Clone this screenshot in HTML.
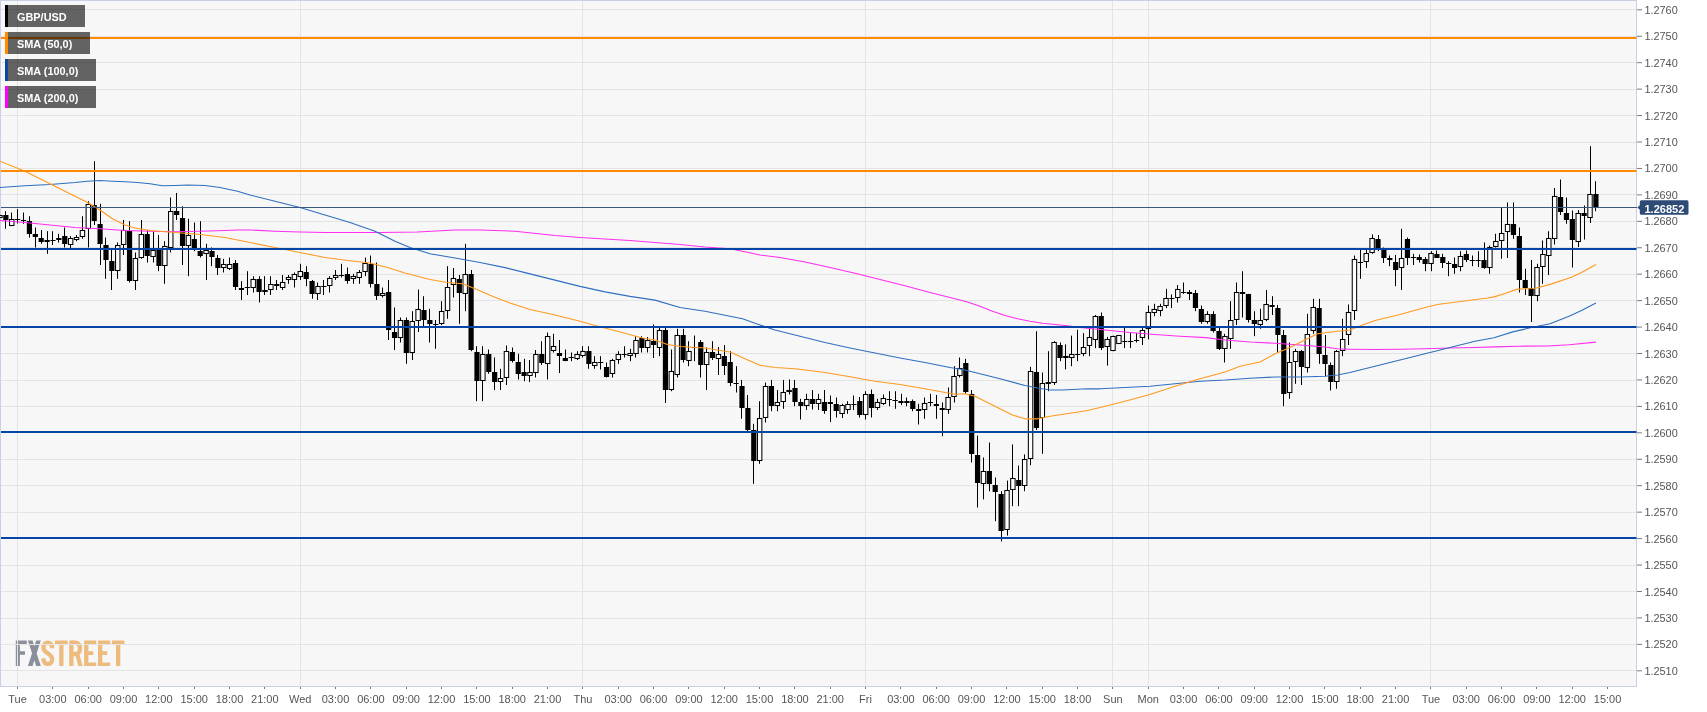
<!DOCTYPE html><html><head><meta charset="utf-8"><title>GBP/USD</title>
<style>html,body{margin:0;padding:0;background:#fff}body{width:1707px;height:712px;overflow:hidden}svg{display:block}text{font-family:"Liberation Sans",sans-serif}text{filter:grayscale(1)}</style></head><body>
<svg width="1707" height="712" viewBox="0 0 1707 712">
<rect x="0" y="0" width="1707" height="712" fill="#fff"/>
<rect x="0" y="0" width="1637" height="687" fill="#c9d0e6"/>
<rect x="1" y="1" width="1635" height="685" fill="#f7f7f7"/>
<path fill="#8b8f9b" d="M15.8 640.6 H26.8 V644.2 H19.9 V651.2 H25 V654.8 H19.9 V666.1 H15.8Z"/><path fill="#8b8f9b" d="M27.9 640.6 H32.5 L40.8 666.1 H36.2Z M36.2 640.6 H40.8 L32.5 666.1 H27.9Z"/><path fill="none" stroke="#eebb7e" stroke-width="4.3" d="M52.05 648.3 V646.6 A4.25 3.85 0 0 0 43.55 646.6 V648.2 C43.55 653.2 52.05 653.4 52.05 658.6 V660.1 A4.25 3.85 0 0 1 43.55 660.1 V658.2"/><path fill="#eebb7e" d="M54.9 640.6 H67.7 V644.2 H63.5 V666.1 H59.2 V644.2 H54.9Z"/><path fill="#eebb7e" d="M69.2 640.6 H73.5 V666.1 H69.2Z M75.2 654.3 H79.5 L82.6 666.1 H78.2Z"/><path fill="none" stroke="#eebb7e" stroke-width="4.3" d="M71.35 642.75 H75.6 A4.3 4.3 0 0 1 79.9 647.05 V649.7 A4.3 4.3 0 0 1 75.6 654 H71.35"/><path fill="#eebb7e" d="M84.1 640.6 H96.2 V644.2 H88.4 V651.3 H93.3 V654.9 H88.4 V662.5 H96.2 V666.1 H84.1Z"/><path fill="#eebb7e" d="M98.0 640.6 H110.1 V644.2 H102.3 V651.3 H107.2 V654.9 H102.3 V662.5 H110.1 V666.1 H98.0Z"/><path fill="#eebb7e" d="M111.9 640.6 H124.4 V644.2 H120.3 V666.1 H116 V644.2 H111.9Z"/>
<path d="M1 9.5H1636M1 36.5H1636M1 62.5H1636M1 89.5H1636M1 115.5H1636M1 142.5H1636M1 168.5H1636M1 194.5H1636M1 221.5H1636M1 247.5H1636M1 274.5H1636M1 300.5H1636M1 327.5H1636M1 353.5H1636M1 380.5H1636M1 406.5H1636M1 432.5H1636M1 459.5H1636M1 485.5H1636M1 512.5H1636M1 538.5H1636M1 565.5H1636M1 591.5H1636M1 618.5H1636M1 644.5H1636M1 670.5H1636M17.5 1V686M300.5 1V686M582.5 1V686M865.5 1V686M1112.5 1V686M1148.5 1V686M1430.5 1V686" stroke="#e4e4e4" stroke-width="1" fill="none" shape-rendering="crispEdges"/>
<path d="M-0.5 210.2V215.0M-0.5 218.0V219.0M5.5 211.2V228.8M11.5 212.5V219.0M11.5 226.0V226.2M17.5 209.2V223.5M23.5 212.5V223.8M29.5 216.2V237.5M35.5 227.5V247.5M41.5 230.0V243.8M47.5 231.2V253.8M52.5 231.2V245.0M58.5 233.8V242.5M64.5 227.5V247.5M70.5 236.2V238.0M70.5 245.0V250.0M76.5 235.0V237.0M76.5 240.0V241.2M82.5 216.2V230.0M82.5 237.0V238.8M88.5 201.2V204.0M88.5 229.0V247.5M94.5 161.2V225.0M100.5 203.8V265.0M105.5 237.5V278.8M111.5 248.8V290.0M117.5 242.5V245.0M117.5 271.0V278.8M123.5 220.0V230.0M123.5 245.0V255.0M129.5 221.2V282.5M135.5 252.5V258.0M135.5 281.0V290.0M141.5 220.0V234.0M141.5 258.0V258.8M147.5 230.0V262.5M153.5 231.2V250.0M153.5 257.0V262.5M158.5 235.0V271.2M164.5 241.2V246.0M164.5 266.0V283.8M170.5 197.5V211.0M170.5 248.0V252.5M176.5 193.0V220.0M182.5 206.2V265.0M188.5 218.8V235.0M188.5 246.0V276.2M194.5 222.5V251.2M200.5 221.2V257.5M206.5 243.8V250.0M206.5 254.0V280.0M211.5 247.5V266.2M217.5 255.0V275.0M223.5 258.8V264.0M223.5 268.0V272.5M229.5 257.5V264.0M229.5 269.0V270.0M235.5 260.0V290.0M241.5 281.2V300.0M247.5 271.2V295.0M253.5 276.2V279.0M253.5 288.0V292.5M259.5 276.2V302.5M264.5 276.2V290.0M264.5 292.0V295.0M270.5 276.2V284.0M270.5 290.0V295.0M276.5 280.0V290.0M282.5 275.0V282.0M282.5 288.0V290.0M288.5 275.0V277.0M288.5 280.0V283.8M294.5 272.5V274.0M294.5 280.0V287.5M300.5 263.8V271.0M300.5 277.0V280.0M306.5 266.2V286.2M312.5 280.0V298.8M317.5 282.5V286.0M317.5 294.0V300.0M323.5 280.0V295.0M329.5 276.2V278.0M329.5 286.0V292.5M335.5 270.0V275.0M335.5 278.0V280.0M341.5 263.8V277.5M347.5 267.5V283.8M353.5 273.8V276.0M353.5 279.0V283.8M359.5 270.0V272.0M359.5 278.0V283.8M365.5 257.5V263.0M365.5 272.0V276.2M370.5 255.5V287.5M376.5 262.5V300.0M382.5 287.5V293.0M382.5 296.0V297.5M388.5 280.0V340.0M394.5 307.5V350.0M400.5 317.5V320.0M400.5 338.0V342.5M406.5 317.5V363.8M412.5 311.2V321.0M412.5 353.0V360.0M418.5 289.5V309.0M418.5 321.0V332.0M423.5 296.2V326.2M429.5 308.8V342.5M435.5 320.0V348.8M441.5 301.2V311.0M441.5 324.0V325.0M447.5 266.2V287.0M447.5 311.0V318.8M453.5 268.0V278.0M453.5 285.0V297.5M459.5 275.0V323.8M465.5 243.8V274.0M465.5 294.0V311.2M471.5 270.0V351.2M476.5 346.2V401.2M482.5 346.2V354.0M482.5 381.0V401.2M488.5 349.5V373.8M494.5 357.5V390.0M500.5 368.8V378.0M500.5 382.0V390.0M506.5 345.5V351.0M506.5 378.0V385.0M512.5 347.5V362.5M518.5 353.8V379.5M524.5 358.8V381.2M529.5 360.0V372.0M529.5 376.0V382.0M535.5 350.0V354.0M535.5 373.0V377.5M541.5 341.2V365.0M547.5 332.5V336.0M547.5 364.0V379.5M553.5 333.8V346.0M553.5 351.0V352.5M559.5 340.0V373.0M565.5 349.5V361.2M571.5 352.5V361.2M577.5 351.2V354.0M577.5 359.0V360.0M582.5 346.2V351.0M582.5 356.0V357.5M588.5 346.2V368.8M594.5 356.2V362.0M594.5 366.0V368.8M600.5 356.2V369.5M606.5 362.5V377.5M612.5 358.8V360.0M612.5 374.0V377.5M618.5 351.2V354.0M618.5 360.0V363.8M624.5 346.2V357.5M630.5 348.8V353.0M630.5 356.0V361.2M635.5 336.2V340.0M635.5 354.0V357.5M641.5 336.2V352.5M647.5 337.0V340.0M647.5 348.0V352.5M653.5 324.5V358.0M659.5 327.5V330.0M659.5 348.0V356.2M665.5 327.5V403.0M671.5 349.5V371.0M671.5 390.0V391.2M677.5 328.8V335.0M677.5 375.0V377.5M683.5 328.8V362.5M688.5 341.2V351.0M688.5 361.0V366.2M694.5 335.5V361.2M700.5 340.0V377.5M706.5 347.5V352.0M706.5 365.0V390.0M712.5 341.2V360.0M718.5 347.0V354.0M718.5 359.0V375.0M724.5 345.0V375.0M730.5 351.2V386.2M736.5 366.2V392.5M741.5 380.0V418.8M747.5 395.0V431.2M753.5 423.8V483.8M759.5 401.2V418.0M759.5 461.0V463.8M765.5 382.5V386.0M765.5 418.0V422.5M771.5 380.0V411.2M777.5 390.0V402.0M777.5 406.0V411.2M783.5 380.0V392.0M783.5 402.0V408.8M789.5 379.5V390.0M789.5 392.0V394.5M794.5 380.0V406.2M800.5 398.8V419.5M806.5 393.8V399.0M806.5 406.0V410.0M812.5 390.0V409.5M818.5 393.8V399.0M818.5 404.0V410.0M824.5 390.0V413.8M830.5 395.5V422.0M836.5 397.5V417.5M842.5 403.8V405.0M842.5 414.0V418.0M847.5 401.2V404.0M847.5 410.0V413.8M853.5 395.5V410.0M859.5 397.0V417.5M865.5 391.2V394.0M865.5 415.0V419.5M871.5 389.5V417.5M877.5 398.8V402.0M877.5 408.0V410.0M883.5 394.5V398.0M883.5 404.0V405.0M889.5 391.2V406.2M895.5 391.2V408.8M901.5 393.8V405.0M906.5 397.5V406.2M912.5 399.5V411.2M918.5 403.8V424.5M924.5 397.5V403.0M924.5 410.0V418.8M930.5 393.8V406.2M936.5 395.0V418.8M942.5 402.5V436.2M948.5 387.5V397.0M948.5 410.0V413.8M954.5 366.2V376.0M954.5 397.0V402.5M959.5 357.5V368.0M959.5 376.0V377.5M965.5 358.8V393.8M971.5 390.0V462.5M977.5 435.6V507.5M983.5 457.5V471.0M983.5 484.0V499.4M989.5 442.5V491.2M995.5 477.5V521.2M1001.5 491.2V541.5M1007.5 480.6V490.0M1007.5 530.0V535.6M1012.5 444.4V478.0M1012.5 490.0V506.2M1018.5 465.6V506.2M1024.5 454.4V459.0M1024.5 486.0V491.2M1030.5 366.9V371.0M1030.5 459.0V465.2M1036.5 331.2V430.0M1042.5 372.5V383.0M1042.5 418.0V453.8M1048.5 351.2V391.2M1054.5 341.2V342.0M1054.5 383.0V385.0M1060.5 342.5V361.2M1065.5 344.4V356.0M1065.5 358.0V369.4M1071.5 335.6V354.0M1071.5 358.0V366.2M1077.5 329.8V361.2M1083.5 333.1V347.0M1083.5 354.0V356.2M1089.5 328.8V337.0M1089.5 346.0V356.2M1095.5 315.0V316.0M1095.5 340.0V348.1M1101.5 312.5V350.0M1107.5 336.9V339.0M1107.5 347.0V365.6M1113.5 335.6V336.0M1113.5 351.0V351.2M1118.5 335.0V335.0M1118.5 344.0V344.0M1124.5 327.5V348.1M1130.5 333.1V348.1M1136.5 333.1V342.5M1142.5 328.1V330.0M1142.5 338.0V345.0M1148.5 305.6V312.0M1148.5 329.0V339.4M1154.5 303.8V309.0M1154.5 313.0V316.2M1160.5 303.8V306.0M1160.5 311.0V316.2M1166.5 288.8V298.0M1166.5 306.0V308.1M1171.5 294.4V308.1M1177.5 285.0V289.0M1177.5 298.0V302.5M1183.5 282.5V293.8M1189.5 290.0V300.0M1195.5 290.0V311.2M1201.5 305.5V323.8M1207.5 311.2V314.0M1207.5 322.0V323.8M1213.5 311.2V332.5M1219.5 327.5V350.0M1224.5 333.8V336.0M1224.5 349.0V362.5M1230.5 301.2V320.0M1230.5 339.0V348.8M1236.5 282.5V292.0M1236.5 320.0V325.0M1242.5 271.2V317.5M1248.5 293.8V322.5M1254.5 311.2V336.2M1260.5 308.8V320.0M1260.5 325.0V328.8M1266.5 290.0V304.0M1266.5 320.0V321.2M1272.5 296.2V315.0M1277.5 305.0V352.5M1283.5 330.0V406.2M1289.5 342.5V362.0M1289.5 393.0V398.8M1295.5 348.8V351.0M1295.5 362.0V383.8M1301.5 350.0V385.0M1307.5 313.8V334.0M1307.5 368.0V372.5M1313.5 298.8V307.0M1313.5 331.0V333.8M1319.5 298.8V363.8M1325.5 335.0V376.2M1330.5 362.5V390.5M1336.5 350.0V351.0M1336.5 382.0V388.8M1342.5 318.8V339.0M1342.5 351.0V356.2M1348.5 304.5V312.0M1348.5 335.0V345.0M1354.5 255.5V259.0M1354.5 311.0V320.0M1360.5 248.8V278.8M1366.5 250.0V253.0M1366.5 262.0V268.0M1372.5 234.5V238.0M1372.5 253.0V253.8M1378.5 235.0V251.2M1383.5 247.5V263.0M1389.5 255.5V266.2M1395.5 255.0V286.2M1401.5 228.8V258.0M1401.5 268.0V290.0M1407.5 237.5V265.0M1413.5 253.8V265.0M1419.5 254.5V262.5M1425.5 257.0V271.2M1431.5 251.2V253.0M1431.5 264.0V271.2M1436.5 250.5V258.0M1442.5 253.8V268.0M1448.5 261.2V276.2M1454.5 257.5V273.8M1460.5 251.2V256.0M1460.5 267.0V271.2M1466.5 250.5V262.0M1472.5 255.5V266.2M1478.5 251.2V267.0M1484.5 242.5V268.8M1489.5 245.5V247.0M1489.5 268.0V273.8M1495.5 233.8V241.0M1495.5 247.0V247.5M1501.5 207.5V233.0M1501.5 241.0V258.8M1507.5 202.5V224.0M1507.5 232.0V258.0M1513.5 202.5V238.8M1519.5 227.5V292.5M1525.5 268.8V295.0M1531.5 260.0V322.0M1537.5 263.8V267.0M1537.5 296.0V301.2M1542.5 240.5V254.0M1542.5 267.0V283.8M1548.5 231.2V238.0M1548.5 256.0V275.0M1554.5 188.0V196.0M1554.5 239.0V244.5M1560.5 179.5V215.0M1566.5 197.5V223.8M1572.5 210.5V267.5M1578.5 210.0V213.0M1578.5 242.0V247.0M1584.5 205.5V239.5M1590.5 146.2V194.0M1590.5 218.0V223.0M1595.5 181.2V211.2" stroke="#000" stroke-width="1" fill="none"/>
<g fill="#000"><rect x="3.27" y="215.0" width="5.2" height="5.0"/><rect x="15.05" y="219.0" width="5.2" height="1.0"/><rect x="20.94" y="220.0" width="5.2" height="1.0"/><rect x="26.83" y="221.0" width="5.2" height="13.0"/><rect x="32.72" y="234.0" width="5.2" height="3.0"/><rect x="38.61" y="238.0" width="5.2" height="4.0"/><rect x="44.49" y="240.0" width="5.2" height="2.0"/><rect x="50.38" y="240.0" width="5.2" height="1.0"/><rect x="56.27" y="238.0" width="5.2" height="2.0"/><rect x="62.16" y="236.0" width="5.2" height="8.0"/><rect x="91.61" y="205.0" width="5.2" height="16.0"/><rect x="97.50" y="224.0" width="5.2" height="20.0"/><rect x="103.39" y="245.0" width="5.2" height="15.0"/><rect x="109.27" y="261.0" width="5.2" height="10.0"/><rect x="126.94" y="231.0" width="5.2" height="50.0"/><rect x="144.61" y="234.0" width="5.2" height="22.0"/><rect x="156.39" y="250.0" width="5.2" height="16.0"/><rect x="174.05" y="211.0" width="5.2" height="4.0"/><rect x="179.94" y="218.0" width="5.2" height="28.0"/><rect x="191.72" y="239.0" width="5.2" height="11.0"/><rect x="197.61" y="251.0" width="5.2" height="5.0"/><rect x="209.39" y="251.0" width="5.2" height="6.0"/><rect x="215.28" y="258.0" width="5.2" height="10.0"/><rect x="232.94" y="263.0" width="5.2" height="24.0"/><rect x="238.83" y="288.0" width="5.2" height="2.0"/><rect x="244.72" y="287.0" width="5.2" height="1.0"/><rect x="256.50" y="279.0" width="5.2" height="13.0"/><rect x="274.17" y="284.0" width="5.2" height="2.0"/><rect x="303.61" y="272.0" width="5.2" height="7.0"/><rect x="309.50" y="281.0" width="5.2" height="13.0"/><rect x="321.28" y="286.0" width="5.2" height="1.0"/><rect x="338.94" y="275.0" width="5.2" height="1.0"/><rect x="344.83" y="274.0" width="5.2" height="7.0"/><rect x="368.39" y="264.0" width="5.2" height="20.0"/><rect x="374.28" y="284.0" width="5.2" height="12.0"/><rect x="386.06" y="292.0" width="5.2" height="38.0"/><rect x="391.95" y="332.0" width="5.2" height="6.0"/><rect x="403.72" y="320.0" width="5.2" height="33.0"/><rect x="421.39" y="310.0" width="5.2" height="10.0"/><rect x="427.28" y="320.0" width="5.2" height="4.0"/><rect x="433.17" y="324.0" width="5.2" height="1.0"/><rect x="456.72" y="279.0" width="5.2" height="14.0"/><rect x="468.50" y="274.0" width="5.2" height="76.0"/><rect x="474.39" y="352.0" width="5.2" height="29.0"/><rect x="486.17" y="354.0" width="5.2" height="18.0"/><rect x="492.06" y="372.0" width="5.2" height="10.0"/><rect x="509.73" y="352.0" width="5.2" height="9.0"/><rect x="515.62" y="362.0" width="5.2" height="12.0"/><rect x="521.50" y="372.0" width="5.2" height="4.0"/><rect x="539.17" y="354.0" width="5.2" height="9.0"/><rect x="556.84" y="353.0" width="5.2" height="3.0"/><rect x="562.73" y="358.0" width="5.2" height="3.0"/><rect x="568.62" y="357.0" width="5.2" height="1.0"/><rect x="586.28" y="351.0" width="5.2" height="13.0"/><rect x="598.06" y="362.0" width="5.2" height="1.0"/><rect x="603.95" y="367.0" width="5.2" height="10.0"/><rect x="621.62" y="354.0" width="5.2" height="1.0"/><rect x="639.28" y="338.0" width="5.2" height="10.0"/><rect x="651.06" y="341.0" width="5.2" height="4.0"/><rect x="662.84" y="330.0" width="5.2" height="60.0"/><rect x="680.51" y="335.0" width="5.2" height="25.0"/><rect x="692.28" y="347.0" width="5.2" height="1.0"/><rect x="698.17" y="342.0" width="5.2" height="23.0"/><rect x="709.95" y="352.0" width="5.2" height="6.0"/><rect x="721.73" y="356.0" width="5.2" height="10.0"/><rect x="727.62" y="362.0" width="5.2" height="21.0"/><rect x="733.51" y="383.0" width="5.2" height="1.0"/><rect x="739.40" y="386.0" width="5.2" height="22.0"/><rect x="745.29" y="408.0" width="5.2" height="22.0"/><rect x="751.17" y="430.0" width="5.2" height="31.0"/><rect x="768.84" y="386.0" width="5.2" height="20.0"/><rect x="792.40" y="388.0" width="5.2" height="14.0"/><rect x="798.29" y="402.0" width="5.2" height="4.0"/><rect x="810.06" y="399.0" width="5.2" height="5.0"/><rect x="821.84" y="402.0" width="5.2" height="9.0"/><rect x="827.73" y="402.0" width="5.2" height="2.0"/><rect x="833.62" y="404.0" width="5.2" height="7.0"/><rect x="851.29" y="404.0" width="5.2" height="1.0"/><rect x="857.18" y="401.0" width="5.2" height="14.0"/><rect x="868.96" y="394.0" width="5.2" height="14.0"/><rect x="886.62" y="399.0" width="5.2" height="1.0"/><rect x="892.51" y="400.0" width="5.2" height="1.0"/><rect x="898.40" y="401.0" width="5.2" height="2.0"/><rect x="904.29" y="401.0" width="5.2" height="2.0"/><rect x="910.18" y="401.0" width="5.2" height="8.0"/><rect x="916.07" y="409.0" width="5.2" height="2.0"/><rect x="927.85" y="402.0" width="5.2" height="1.0"/><rect x="933.73" y="404.0" width="5.2" height="2.0"/><rect x="939.62" y="408.0" width="5.2" height="2.0"/><rect x="963.18" y="363.0" width="5.2" height="29.0"/><rect x="969.07" y="394.0" width="5.2" height="60.0"/><rect x="974.96" y="455.0" width="5.2" height="28.0"/><rect x="986.74" y="471.0" width="5.2" height="13.0"/><rect x="992.62" y="485.0" width="5.2" height="7.0"/><rect x="998.51" y="494.0" width="5.2" height="37.0"/><rect x="1016.18" y="480.0" width="5.2" height="6.0"/><rect x="1033.85" y="372.0" width="5.2" height="56.0"/><rect x="1045.63" y="382.0" width="5.2" height="2.0"/><rect x="1057.40" y="345.0" width="5.2" height="13.0"/><rect x="1075.07" y="354.0" width="5.2" height="1.0"/><rect x="1098.63" y="316.0" width="5.2" height="32.0"/><rect x="1122.18" y="341.0" width="5.2" height="1.0"/><rect x="1128.07" y="341.0" width="5.2" height="1.0"/><rect x="1133.96" y="340.0" width="5.2" height="1.0"/><rect x="1169.29" y="298.0" width="5.2" height="1.0"/><rect x="1181.07" y="292.0" width="5.2" height="1.0"/><rect x="1186.96" y="292.0" width="5.2" height="2.0"/><rect x="1192.85" y="293.0" width="5.2" height="15.0"/><rect x="1198.74" y="309.0" width="5.2" height="13.0"/><rect x="1210.52" y="314.0" width="5.2" height="17.0"/><rect x="1216.41" y="331.0" width="5.2" height="18.0"/><rect x="1239.96" y="292.0" width="5.2" height="2.0"/><rect x="1245.85" y="294.0" width="5.2" height="26.0"/><rect x="1251.74" y="320.0" width="5.2" height="4.0"/><rect x="1269.41" y="305.0" width="5.2" height="2.0"/><rect x="1275.30" y="308.0" width="5.2" height="27.0"/><rect x="1281.19" y="335.0" width="5.2" height="59.0"/><rect x="1298.85" y="351.0" width="5.2" height="16.0"/><rect x="1316.52" y="308.0" width="5.2" height="46.0"/><rect x="1322.41" y="355.0" width="5.2" height="9.0"/><rect x="1328.30" y="365.0" width="5.2" height="17.0"/><rect x="1357.74" y="262.0" width="5.2" height="1.0"/><rect x="1375.41" y="239.0" width="5.2" height="11.0"/><rect x="1381.30" y="250.0" width="5.2" height="8.0"/><rect x="1387.19" y="258.0" width="5.2" height="2.0"/><rect x="1393.08" y="262.0" width="5.2" height="8.0"/><rect x="1404.85" y="239.0" width="5.2" height="19.0"/><rect x="1410.74" y="257.0" width="5.2" height="1.0"/><rect x="1416.63" y="257.0" width="5.2" height="3.0"/><rect x="1422.52" y="259.0" width="5.2" height="5.0"/><rect x="1434.30" y="254.0" width="5.2" height="4.0"/><rect x="1440.19" y="257.0" width="5.2" height="6.0"/><rect x="1446.08" y="263.0" width="5.2" height="1.0"/><rect x="1451.97" y="264.0" width="5.2" height="4.0"/><rect x="1463.74" y="254.0" width="5.2" height="6.0"/><rect x="1469.63" y="260.0" width="5.2" height="1.0"/><rect x="1475.52" y="260.0" width="5.2" height="1.0"/><rect x="1481.41" y="260.0" width="5.2" height="8.0"/><rect x="1510.86" y="224.0" width="5.2" height="11.0"/><rect x="1516.75" y="236.0" width="5.2" height="44.0"/><rect x="1522.63" y="280.0" width="5.2" height="8.0"/><rect x="1528.52" y="288.0" width="5.2" height="8.0"/><rect x="1557.97" y="197.0" width="5.2" height="15.0"/><rect x="1563.86" y="213.0" width="5.2" height="7.0"/><rect x="1569.75" y="219.0" width="5.2" height="21.0"/><rect x="1581.52" y="213.0" width="5.2" height="3.0"/><rect x="1593.30" y="194.0" width="5.2" height="13.0"/></g>
<g fill="#fff" stroke="#000" stroke-width="1.05"><rect x="-2.22" y="215.5" width="4.4" height="2.0"/><rect x="9.56" y="219.5" width="4.4" height="6.0"/><rect x="68.45" y="238.5" width="4.4" height="6.0"/><rect x="74.34" y="237.5" width="4.4" height="2.0"/><rect x="80.23" y="230.5" width="4.4" height="6.0"/><rect x="86.12" y="204.5" width="4.4" height="24.0"/><rect x="115.56" y="245.5" width="4.4" height="25.0"/><rect x="121.45" y="230.5" width="4.4" height="14.0"/><rect x="133.23" y="258.5" width="4.4" height="22.0"/><rect x="139.12" y="234.5" width="4.4" height="23.0"/><rect x="150.90" y="250.5" width="4.4" height="6.0"/><rect x="162.68" y="246.5" width="4.4" height="19.0"/><rect x="168.56" y="211.5" width="4.4" height="36.0"/><rect x="186.23" y="235.5" width="4.4" height="10.0"/><rect x="203.90" y="250.5" width="4.4" height="3.0"/><rect x="221.57" y="264.5" width="4.4" height="3.0"/><rect x="227.45" y="264.5" width="4.4" height="4.0"/><rect x="251.01" y="279.5" width="4.4" height="8.0"/><rect x="262.79" y="290.5" width="4.4" height="1.0"/><rect x="268.68" y="284.5" width="4.4" height="5.0"/><rect x="280.45" y="282.5" width="4.4" height="5.0"/><rect x="286.34" y="277.5" width="4.4" height="2.0"/><rect x="292.23" y="274.5" width="4.4" height="5.0"/><rect x="298.12" y="271.5" width="4.4" height="5.0"/><rect x="315.79" y="286.5" width="4.4" height="7.0"/><rect x="327.57" y="278.5" width="4.4" height="7.0"/><rect x="333.46" y="275.5" width="4.4" height="2.0"/><rect x="351.12" y="276.5" width="4.4" height="2.0"/><rect x="357.01" y="272.5" width="4.4" height="5.0"/><rect x="362.90" y="263.5" width="4.4" height="8.0"/><rect x="380.57" y="293.5" width="4.4" height="2.0"/><rect x="398.24" y="320.5" width="4.4" height="17.0"/><rect x="410.01" y="321.5" width="4.4" height="31.0"/><rect x="415.90" y="309.5" width="4.4" height="11.0"/><rect x="439.46" y="311.5" width="4.4" height="12.0"/><rect x="445.35" y="287.5" width="4.4" height="23.0"/><rect x="451.24" y="278.5" width="4.4" height="6.0"/><rect x="463.01" y="274.5" width="4.4" height="19.0"/><rect x="480.68" y="354.5" width="4.4" height="26.0"/><rect x="498.35" y="378.5" width="4.4" height="3.0"/><rect x="504.24" y="351.5" width="4.4" height="26.0"/><rect x="527.79" y="372.5" width="4.4" height="3.0"/><rect x="533.68" y="354.5" width="4.4" height="18.0"/><rect x="545.46" y="336.5" width="4.4" height="27.0"/><rect x="551.35" y="346.5" width="4.4" height="4.0"/><rect x="574.90" y="354.5" width="4.4" height="4.0"/><rect x="580.79" y="351.5" width="4.4" height="4.0"/><rect x="592.57" y="362.5" width="4.4" height="3.0"/><rect x="610.24" y="360.5" width="4.4" height="13.0"/><rect x="616.13" y="354.5" width="4.4" height="5.0"/><rect x="627.91" y="353.5" width="4.4" height="2.0"/><rect x="633.79" y="340.5" width="4.4" height="13.0"/><rect x="645.57" y="340.5" width="4.4" height="7.0"/><rect x="657.35" y="330.5" width="4.4" height="17.0"/><rect x="669.13" y="371.5" width="4.4" height="18.0"/><rect x="675.02" y="335.5" width="4.4" height="39.0"/><rect x="686.80" y="351.5" width="4.4" height="9.0"/><rect x="704.46" y="352.5" width="4.4" height="12.0"/><rect x="716.24" y="354.5" width="4.4" height="4.0"/><rect x="757.46" y="418.5" width="4.4" height="42.0"/><rect x="763.35" y="386.5" width="4.4" height="31.0"/><rect x="775.13" y="402.5" width="4.4" height="3.0"/><rect x="781.02" y="392.5" width="4.4" height="9.0"/><rect x="786.91" y="390.5" width="4.4" height="1.0"/><rect x="804.58" y="399.5" width="4.4" height="6.0"/><rect x="816.35" y="399.5" width="4.4" height="4.0"/><rect x="839.91" y="405.5" width="4.4" height="8.0"/><rect x="845.80" y="404.5" width="4.4" height="5.0"/><rect x="863.47" y="394.5" width="4.4" height="20.0"/><rect x="875.24" y="402.5" width="4.4" height="5.0"/><rect x="881.13" y="398.5" width="4.4" height="5.0"/><rect x="922.36" y="403.5" width="4.4" height="6.0"/><rect x="945.91" y="397.5" width="4.4" height="12.0"/><rect x="951.80" y="376.5" width="4.4" height="20.0"/><rect x="957.69" y="368.5" width="4.4" height="7.0"/><rect x="981.25" y="471.5" width="4.4" height="12.0"/><rect x="1004.80" y="490.5" width="4.4" height="39.0"/><rect x="1010.69" y="478.5" width="4.4" height="11.0"/><rect x="1022.47" y="459.5" width="4.4" height="26.0"/><rect x="1028.36" y="371.5" width="4.4" height="87.0"/><rect x="1040.14" y="383.5" width="4.4" height="34.0"/><rect x="1051.91" y="342.5" width="4.4" height="40.0"/><rect x="1063.69" y="356.5" width="4.4" height="1.0"/><rect x="1069.58" y="354.5" width="4.4" height="3.0"/><rect x="1081.36" y="347.5" width="4.4" height="6.0"/><rect x="1087.25" y="337.5" width="4.4" height="8.0"/><rect x="1093.14" y="316.5" width="4.4" height="23.0"/><rect x="1104.92" y="339.5" width="4.4" height="7.0"/><rect x="1110.80" y="336.5" width="4.4" height="14.0"/><rect x="1116.69" y="335.5" width="4.4" height="8.0"/><rect x="1140.25" y="330.5" width="4.4" height="7.0"/><rect x="1146.14" y="312.5" width="4.4" height="16.0"/><rect x="1152.03" y="309.5" width="4.4" height="3.0"/><rect x="1157.92" y="306.5" width="4.4" height="4.0"/><rect x="1163.81" y="298.5" width="4.4" height="7.0"/><rect x="1175.58" y="289.5" width="4.4" height="8.0"/><rect x="1205.03" y="314.5" width="4.4" height="7.0"/><rect x="1222.70" y="336.5" width="4.4" height="12.0"/><rect x="1228.58" y="320.5" width="4.4" height="18.0"/><rect x="1234.47" y="292.5" width="4.4" height="27.0"/><rect x="1258.03" y="320.5" width="4.4" height="4.0"/><rect x="1263.92" y="304.5" width="4.4" height="15.0"/><rect x="1287.47" y="362.5" width="4.4" height="30.0"/><rect x="1293.36" y="351.5" width="4.4" height="10.0"/><rect x="1305.14" y="334.5" width="4.4" height="33.0"/><rect x="1311.03" y="307.5" width="4.4" height="23.0"/><rect x="1334.59" y="351.5" width="4.4" height="30.0"/><rect x="1340.48" y="339.5" width="4.4" height="11.0"/><rect x="1346.36" y="312.5" width="4.4" height="22.0"/><rect x="1352.25" y="259.5" width="4.4" height="51.0"/><rect x="1364.03" y="253.5" width="4.4" height="8.0"/><rect x="1369.92" y="238.5" width="4.4" height="14.0"/><rect x="1399.37" y="258.5" width="4.4" height="9.0"/><rect x="1428.81" y="253.5" width="4.4" height="10.0"/><rect x="1458.26" y="256.5" width="4.4" height="10.0"/><rect x="1487.70" y="247.5" width="4.4" height="20.0"/><rect x="1493.59" y="241.5" width="4.4" height="5.0"/><rect x="1499.48" y="233.5" width="4.4" height="7.0"/><rect x="1505.37" y="224.5" width="4.4" height="7.0"/><rect x="1534.81" y="267.5" width="4.4" height="28.0"/><rect x="1540.70" y="254.5" width="4.4" height="12.0"/><rect x="1546.59" y="238.5" width="4.4" height="17.0"/><rect x="1552.48" y="196.5" width="4.4" height="42.0"/><rect x="1576.04" y="213.5" width="4.4" height="28.0"/><rect x="1587.81" y="194.5" width="4.4" height="23.0"/></g>
<path d="M0.0 220.5 L25.0 222.5 L50.0 225.0 L75.0 227.5 L100.0 228.8 L125.0 230.5 L150.0 231.2 L175.0 231.8 L200.0 231.2 L225.0 230.5 L237.5 230.0 L250.0 230.0 L275.0 231.2 L300.0 232.0 L325.0 232.5 L350.0 232.5 L380.0 232.5 L417.5 232.0 L455.0 230.0 L480.0 230.0 L515.0 231.2 L555.0 235.5 L580.0 237.5 L630.0 240.5 L680.0 244.5 L705.0 247.0 L730.0 248.8 L742.5 251.2 L760.0 255.0 L780.0 257.5 L805.0 262.0 L830.0 267.5 L855.0 273.2 L880.0 279.5 L905.0 285.8 L930.0 292.5 L955.0 298.8 L967.5 302.0 L980.0 306.2 L992.5 311.2 L1005.0 315.5 L1017.5 318.8 L1030.0 321.2 L1042.5 323.2 L1055.0 324.5 L1067.5 325.8 L1080.0 327.5 L1105.0 330.0 L1130.0 332.5 L1155.0 334.5 L1180.0 336.2 L1206.0 337.6 L1225.0 340.0 L1250.0 342.0 L1275.0 343.2 L1300.0 345.0 L1325.0 347.0 L1337.5 348.8 L1350.0 349.2 L1375.0 349.5 L1400.0 349.2 L1425.0 348.8 L1450.0 348.0 L1475.0 347.5 L1494.0 346.9 L1519.0 346.2 L1547.8 346.0 L1569.0 344.8 L1596.0 342.1" stroke="#ff2df0" stroke-width="1.15" fill="none" stroke-linejoin="round"/>
<path d="M0.0 187.5 L25.0 185.8 L50.0 184.5 L75.0 182.5 L87.5 181.2 L100.0 180.5 L112.5 181.2 L125.0 181.8 L137.5 182.5 L150.0 183.8 L162.5 185.8 L175.0 185.5 L187.5 185.0 L205.0 185.5 L220.0 187.5 L237.5 191.2 L250.0 195.0 L275.0 201.2 L300.0 207.5 L325.0 215.0 L350.0 222.5 L375.0 231.2 L395.0 241.2 L410.0 247.5 L430.0 253.8 L455.0 258.0 L480.0 262.5 L505.0 267.6 L530.0 273.9 L555.0 280.1 L580.0 286.4 L605.0 291.9 L630.0 296.4 L655.0 300.1 L680.0 307.5 L705.0 311.2 L730.0 316.2 L742.5 318.8 L760.0 325.0 L775.0 330.0 L800.0 336.2 L825.0 342.5 L850.0 348.0 L875.0 353.0 L900.0 358.0 L925.0 362.5 L950.0 367.5 L962.5 369.5 L975.0 372.5 L1000.0 378.8 L1025.0 385.5 L1037.5 388.0 L1050.0 390.0 L1062.5 390.0 L1087.5 388.8 L1100.0 388.8 L1125.0 387.5 L1150.0 386.2 L1175.0 383.8 L1200.0 381.2 L1225.0 380.0 L1250.0 378.2 L1275.0 377.0 L1300.0 377.0 L1325.0 376.2 L1337.5 375.0 L1350.0 372.5 L1375.0 366.2 L1400.0 360.0 L1425.0 353.8 L1450.0 347.5 L1475.0 341.2 L1494.0 337.8 L1512.8 331.9 L1531.5 327.5 L1550.0 323.8 L1569.0 316.2 L1581.5 310.6 L1596.0 303.1" stroke="#2f6fc0" stroke-width="1.15" fill="none" stroke-linejoin="round"/>
<path d="M0.0 161.2 L25.0 171.2 L50.0 183.8 L75.0 196.2 L87.5 202.5 L100.0 210.0 L112.5 218.8 L125.0 225.0 L135.0 228.0 L150.0 230.5 L175.0 232.5 L200.0 234.5 L225.0 237.5 L250.0 242.5 L275.0 247.5 L300.0 252.5 L325.0 257.5 L350.0 260.8 L370.0 263.0 L387.5 267.5 L405.0 273.0 L430.0 279.5 L447.5 282.5 L462.5 283.8 L475.0 288.8 L492.5 296.2 L510.0 303.0 L530.0 309.5 L555.0 315.0 L580.0 321.2 L595.0 325.5 L617.5 331.2 L642.5 338.0 L655.0 340.0 L667.5 344.5 L680.0 346.5 L705.0 348.0 L730.0 352.0 L745.0 358.8 L760.0 365.2 L775.0 367.5 L795.0 368.8 L825.0 372.5 L850.0 376.8 L875.0 381.2 L900.0 384.5 L925.0 388.8 L945.0 392.5 L955.0 394.2 L965.0 393.8 L975.0 396.2 L987.5 402.5 L1000.0 408.8 L1012.5 415.0 L1025.0 418.8 L1037.5 418.8 L1050.0 416.2 L1075.0 412.5 L1087.5 410.5 L1100.0 407.5 L1125.0 401.2 L1150.0 394.5 L1175.0 386.2 L1200.0 378.8 L1225.0 372.0 L1240.0 366.2 L1260.0 362.0 L1275.0 353.8 L1290.0 347.5 L1305.0 340.0 L1317.5 333.8 L1337.5 331.2 L1350.0 330.0 L1362.5 325.0 L1375.0 320.5 L1400.0 314.5 L1425.0 307.5 L1437.5 304.5 L1462.5 301.2 L1487.5 298.0 L1494.0 296.9 L1505.0 293.5 L1516.5 289.4 L1526.0 288.7 L1535.0 288.5 L1550.0 284.4 L1571.5 277.2 L1581.5 272.5 L1596.0 264.4" stroke="#ff9a1f" stroke-width="1.15" fill="none" stroke-linejoin="round"/>
<rect x="1" y="37" width="1635.5" height="2" fill="#ff8c00"/>
<rect x="1" y="170" width="1635.5" height="2" fill="#ff8c00"/>
<rect x="1" y="248" width="1635.5" height="2" fill="#0545a6"/>
<rect x="1" y="326" width="1635.5" height="2" fill="#0545a6"/>
<rect x="1" y="431" width="1635.5" height="2" fill="#0545a6"/>
<rect x="1" y="537" width="1635.5" height="2" fill="#0545a6"/>
<rect x="1" y="207" width="1636" height="1" fill="#3b5783"/>
<rect x="5" y="5" width="80" height="22" fill="rgba(0,0,0,0.6)"/>
<rect x="5" y="5" width="3" height="22" fill="#000"/>
<text x="17" y="21" font-size="10.9" font-weight="bold" fill="#fff">GBP/USD</text>
<rect x="5" y="32" width="85" height="22" fill="rgba(0,0,0,0.6)"/>
<rect x="5" y="32" width="3" height="22" fill="#ff8c00"/>
<text x="17" y="48" font-size="10.9" font-weight="bold" fill="#fff">SMA (50,0)</text>
<rect x="5" y="59" width="91" height="22" fill="rgba(0,0,0,0.6)"/>
<rect x="5" y="59" width="3" height="22" fill="#0d47a1"/>
<text x="17" y="75" font-size="10.9" font-weight="bold" fill="#fff">SMA (100,0)</text>
<rect x="5" y="86" width="91" height="22" fill="rgba(0,0,0,0.6)"/>
<rect x="5" y="86" width="3" height="22" fill="#ff00ff"/>
<text x="17" y="102" font-size="10.9" font-weight="bold" fill="#fff">SMA (200,0)</text>
<text x="1644.4" y="13.8" font-size="10.9" fill="#555">1.2760</text>
<text x="1644.4" y="40.2" font-size="10.9" fill="#555">1.2750</text>
<text x="1644.4" y="66.7" font-size="10.9" fill="#555">1.2740</text>
<text x="1644.4" y="93.1" font-size="10.9" fill="#555">1.2730</text>
<text x="1644.4" y="119.6" font-size="10.9" fill="#555">1.2720</text>
<text x="1644.4" y="146.0" font-size="10.9" fill="#555">1.2710</text>
<text x="1644.4" y="172.4" font-size="10.9" fill="#555">1.2700</text>
<text x="1644.4" y="198.9" font-size="10.9" fill="#555">1.2690</text>
<text x="1644.4" y="225.3" font-size="10.9" fill="#555">1.2680</text>
<text x="1644.4" y="251.8" font-size="10.9" fill="#555">1.2670</text>
<text x="1644.4" y="278.2" font-size="10.9" fill="#555">1.2660</text>
<text x="1644.4" y="304.6" font-size="10.9" fill="#555">1.2650</text>
<text x="1644.4" y="331.1" font-size="10.9" fill="#555">1.2640</text>
<text x="1644.4" y="357.5" font-size="10.9" fill="#555">1.2630</text>
<text x="1644.4" y="384.0" font-size="10.9" fill="#555">1.2620</text>
<text x="1644.4" y="410.4" font-size="10.9" fill="#555">1.2610</text>
<text x="1644.4" y="436.8" font-size="10.9" fill="#555">1.2600</text>
<text x="1644.4" y="463.3" font-size="10.9" fill="#555">1.2590</text>
<text x="1644.4" y="489.7" font-size="10.9" fill="#555">1.2580</text>
<text x="1644.4" y="516.2" font-size="10.9" fill="#555">1.2570</text>
<text x="1644.4" y="542.6" font-size="10.9" fill="#555">1.2560</text>
<text x="1644.4" y="569.0" font-size="10.9" fill="#555">1.2550</text>
<text x="1644.4" y="595.5" font-size="10.9" fill="#555">1.2540</text>
<text x="1644.4" y="621.9" font-size="10.9" fill="#555">1.2530</text>
<text x="1644.4" y="648.4" font-size="10.9" fill="#555">1.2520</text>
<text x="1644.4" y="674.8" font-size="10.9" fill="#555">1.2510</text>
<path d="M1637 9.80H1642M1637 36.24H1642M1637 62.68H1642M1637 89.12H1642M1637 115.56H1642M1637 142.00H1642M1637 168.44H1642M1637 194.88H1642M1637 221.32H1642M1637 247.76H1642M1637 274.20H1642M1637 300.64H1642M1637 327.08H1642M1637 353.52H1642M1637 379.96H1642M1637 406.40H1642M1637 432.84H1642M1637 459.28H1642M1637 485.72H1642M1637 512.16H1642M1637 538.60H1642M1637 565.04H1642M1637 591.48H1642M1637 617.92H1642M1637 644.36H1642M1637 670.80H1642" stroke="#7a7a7a" stroke-width="1" fill="none"/>
<path d="M1637.3 207.5L1639.8 205.3V201.8Q1639.8 200.3 1641.3 200.3H1687Q1688.5 200.3 1688.5 201.8V213.2Q1688.5 214.7 1687 214.7H1641.3Q1639.8 214.7 1639.8 213.2V209.7Z" fill="#2e4b76"/>
<text x="1644.5" y="213" font-size="11" font-weight="bold" fill="#fff">1.26852</text>
<text x="17.5" y="703" font-size="11" fill="#555" text-anchor="middle">Tue</text>
<text x="52.8" y="703" font-size="11" fill="#555" text-anchor="middle">03:00</text>
<text x="88.2" y="703" font-size="11" fill="#555" text-anchor="middle">06:00</text>
<text x="123.5" y="703" font-size="11" fill="#555" text-anchor="middle">09:00</text>
<text x="158.8" y="703" font-size="11" fill="#555" text-anchor="middle">12:00</text>
<text x="194.2" y="703" font-size="11" fill="#555" text-anchor="middle">15:00</text>
<text x="229.5" y="703" font-size="11" fill="#555" text-anchor="middle">18:00</text>
<text x="264.8" y="703" font-size="11" fill="#555" text-anchor="middle">21:00</text>
<text x="300.2" y="703" font-size="11" fill="#555" text-anchor="middle">Wed</text>
<text x="335.5" y="703" font-size="11" fill="#555" text-anchor="middle">03:00</text>
<text x="370.9" y="703" font-size="11" fill="#555" text-anchor="middle">06:00</text>
<text x="406.2" y="703" font-size="11" fill="#555" text-anchor="middle">09:00</text>
<text x="441.5" y="703" font-size="11" fill="#555" text-anchor="middle">12:00</text>
<text x="476.9" y="703" font-size="11" fill="#555" text-anchor="middle">15:00</text>
<text x="512.2" y="703" font-size="11" fill="#555" text-anchor="middle">18:00</text>
<text x="547.5" y="703" font-size="11" fill="#555" text-anchor="middle">21:00</text>
<text x="582.9" y="703" font-size="11" fill="#555" text-anchor="middle">Thu</text>
<text x="618.2" y="703" font-size="11" fill="#555" text-anchor="middle">03:00</text>
<text x="653.5" y="703" font-size="11" fill="#555" text-anchor="middle">06:00</text>
<text x="688.9" y="703" font-size="11" fill="#555" text-anchor="middle">09:00</text>
<text x="724.2" y="703" font-size="11" fill="#555" text-anchor="middle">12:00</text>
<text x="759.5" y="703" font-size="11" fill="#555" text-anchor="middle">15:00</text>
<text x="794.9" y="703" font-size="11" fill="#555" text-anchor="middle">18:00</text>
<text x="830.2" y="703" font-size="11" fill="#555" text-anchor="middle">21:00</text>
<text x="865.5" y="703" font-size="11" fill="#555" text-anchor="middle">Fri</text>
<text x="900.9" y="703" font-size="11" fill="#555" text-anchor="middle">03:00</text>
<text x="936.2" y="703" font-size="11" fill="#555" text-anchor="middle">06:00</text>
<text x="971.5" y="703" font-size="11" fill="#555" text-anchor="middle">09:00</text>
<text x="1006.9" y="703" font-size="11" fill="#555" text-anchor="middle">12:00</text>
<text x="1042.2" y="703" font-size="11" fill="#555" text-anchor="middle">15:00</text>
<text x="1077.5" y="703" font-size="11" fill="#555" text-anchor="middle">18:00</text>
<text x="1112.9" y="703" font-size="11" fill="#555" text-anchor="middle">Sun</text>
<text x="1148.2" y="703" font-size="11" fill="#555" text-anchor="middle">Mon</text>
<text x="1183.6" y="703" font-size="11" fill="#555" text-anchor="middle">03:00</text>
<text x="1218.9" y="703" font-size="11" fill="#555" text-anchor="middle">06:00</text>
<text x="1254.2" y="703" font-size="11" fill="#555" text-anchor="middle">09:00</text>
<text x="1289.6" y="703" font-size="11" fill="#555" text-anchor="middle">12:00</text>
<text x="1324.9" y="703" font-size="11" fill="#555" text-anchor="middle">15:00</text>
<text x="1360.2" y="703" font-size="11" fill="#555" text-anchor="middle">18:00</text>
<text x="1395.6" y="703" font-size="11" fill="#555" text-anchor="middle">21:00</text>
<text x="1430.9" y="703" font-size="11" fill="#555" text-anchor="middle">Tue</text>
<text x="1466.2" y="703" font-size="11" fill="#555" text-anchor="middle">03:00</text>
<text x="1501.6" y="703" font-size="11" fill="#555" text-anchor="middle">06:00</text>
<text x="1536.9" y="703" font-size="11" fill="#555" text-anchor="middle">09:00</text>
<text x="1572.2" y="703" font-size="11" fill="#555" text-anchor="middle">12:00</text>
<text x="1607.6" y="703" font-size="11" fill="#555" text-anchor="middle">15:00</text>
<path d="M17.5 687V689M52.5 687V689M88.5 687V689M123.5 687V689M158.5 687V689M194.5 687V689M229.5 687V689M264.5 687V689M300.5 687V689M335.5 687V689M370.5 687V689M406.5 687V689M441.5 687V689M476.5 687V689M512.5 687V689M547.5 687V689M582.5 687V689M618.5 687V689M653.5 687V689M688.5 687V689M724.5 687V689M759.5 687V689M794.5 687V689M830.5 687V689M865.5 687V689M900.5 687V689M936.5 687V689M971.5 687V689M1006.5 687V689M1042.5 687V689M1077.5 687V689M1112.5 687V689M1148.5 687V689M1183.5 687V689M1218.5 687V689M1254.5 687V689M1289.5 687V689M1324.5 687V689M1360.5 687V689M1395.5 687V689M1430.5 687V689M1466.5 687V689M1501.5 687V689M1536.5 687V689M1572.5 687V689M1607.5 687V689" stroke="#777" stroke-width="1" fill="none" shape-rendering="crispEdges"/>
</svg></body></html>
